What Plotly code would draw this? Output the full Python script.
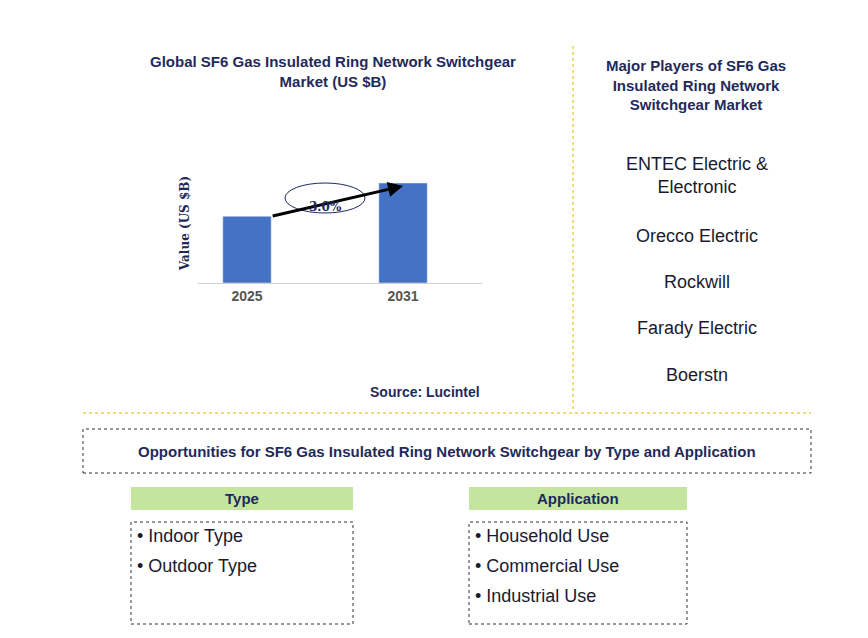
import plotly.graph_objects as go

years = ["2025", "2031"]
values = [2.0, 3.0]
cagr_label = "3.0%"
players = ["ENTEC Electric &<br>Electronic", "Orecco Electric", "Rockwill", "Farady Electric", "Boerstn"]
types = ["Indoor Type", "Outdoor Type"]
applications = ["Household Use", "Commercial Use", "Industrial Use"]

W, H = 868, 638
def px(x): return x / W
def py(y): return 1 - y / H

NAVY = "#1f2a5c"
fig = go.Figure(go.Bar(x=[0, 1], y=values, width=0.31, marker_color="#4472c4", hoverinfo="skip"))
fig.update_layout(
    width=W, height=H, margin=dict(l=0, r=0, t=0, b=0),
    plot_bgcolor="white", paper_bgcolor="white", showlegend=False,
    xaxis=dict(domain=[px(190), px(474)], range=[-0.314, 1.506], tickvals=[0, 1], ticktext=years,
               showgrid=False, zeroline=False, showline=True, linecolor="#d0d0d0",
               tickfont=dict(family="Arial", size=14, color="#555555", weight="bold"), ticks=""),
    yaxis=dict(domain=[py(275), py(155)], range=[0, 3.6], showticklabels=False, showgrid=False,
               zeroline=False, showline=False,
               title=dict(text="Value (US $B)", font=dict(family="DejaVu Serif", size=12, color=NAVY, weight="bold"), standoff=4)),
    font=dict(family="Arial"),
)
ann = []
shapes = []
def text(x, y, t, size=15, bold=True, color=NAVY, align="center", xanchor="center"):
    ann.append(dict(x=px(x), y=py(y), xref="paper", yref="paper", text=t, showarrow=False,
                    font=dict(family="Arial", size=size, color=color, weight="bold" if bold else "normal"),
                    align=align, xanchor=xanchor, yanchor="middle"))

text(325, 64, "Global SF6 Gas Insulated Ring Network Switchgear<br>Market (US $B)", 15)
text(688, 77, "Major Players of SF6 Gas<br>Insulated Ring Network<br>Switchgear Market", 15)
for t, y in zip(players, [167, 228, 274, 320, 367]):
    text(689, y, t, 18, bold=False, color="#1a1a2e")
text(417, 384, "Source: Lucintel", 14)

# arrow and ellipse
ann.append(dict(x=1, y=values[1] * 0.97, ax=0.155, ay=values[0] * 1.0, xref="x", yref="y", axref="x", ayref="y",
                text="", showarrow=True, arrowhead=2, arrowsize=1, arrowwidth=3, arrowcolor="black"))
shapes.append(dict(type="circle", xref="paper", yref="paper", x0=px(277), x1=px(357), y0=py(205), y1=py(175),
                   fillcolor="white", line=dict(color=NAVY, width=1)))
ann.append(dict(x=px(317), y=py(190), xref="paper", yref="paper", text=cagr_label, showarrow=False,
                font=dict(family="DejaVu Serif", size=12, color=NAVY, weight="bold")))

GOLD = "#e6b800"
shapes.append(dict(type="line", xref="paper", yref="paper", x0=px(565), x1=px(565), y0=py(38), y1=py(403),
                   line=dict(color=GOLD, width=1, dash="dot")))
shapes.append(dict(type="line", xref="paper", yref="paper", x0=px(75), x1=px(803), y0=py(405), y1=py(405),
                   line=dict(color=GOLD, width=1, dash="dot")))
shapes.append(dict(type="rect", xref="paper", yref="paper", x0=px(75), x1=px(803), y0=py(465), y1=py(421),
                   line=dict(color="#333333", width=1, dash="dot")))
text(439, 443, "Opportunities for SF6 Gas Insulated Ring Network Switchgear by Type and Application", 15)

for x0, x1, head, items in [(123, 345, "Type", types), (461, 679, "Application", applications)]:
    shapes.append(dict(type="rect", xref="paper", yref="paper", x0=px(x0), x1=px(x1), y0=py(502), y1=py(479),
                       fillcolor="#c4e59d", line=dict(width=0)))
    text((x0 + x1) / 2, 490, head, 15)
    shapes.append(dict(type="rect", xref="paper", yref="paper", x0=px(x0), x1=px(x1), y0=py(616), y1=py(514),
                       line=dict(color="#333333", width=1, dash="dot")))
    for i, it in enumerate(items):
        text(x0 + 4, 528 + 30 * i, "• " + it, 18, bold=False, color="#1a1a2e", xanchor="left")

fig.update_layout(annotations=ann, shapes=shapes)
fig.write_html("out.html")
